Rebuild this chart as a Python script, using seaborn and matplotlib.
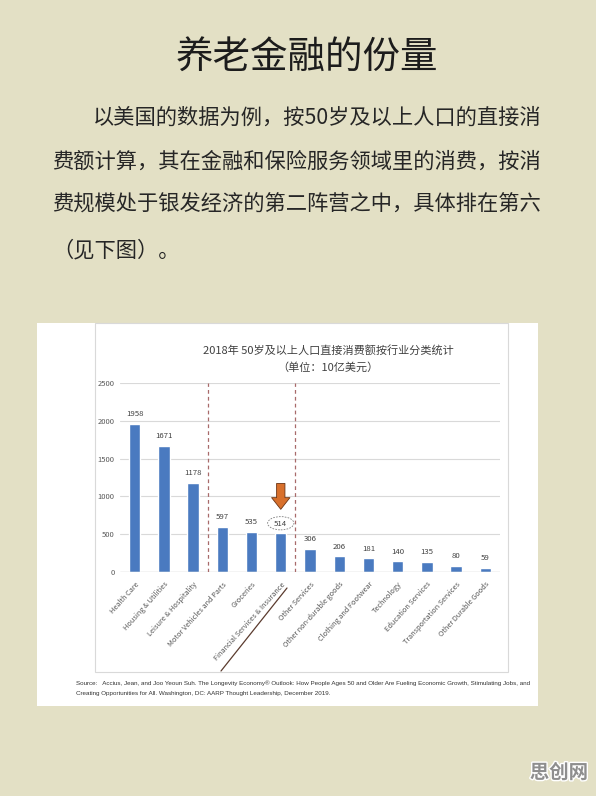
import matplotlib
matplotlib.use("Agg")
import matplotlib.pyplot as plt
import matplotlib.patches as mpatches
import matplotlib.patheffects as pe
from matplotlib.lines import Line2D
import seaborn as sns
import pandas as pd

# data (unit: 10亿美元)
categories = [
    "Health Care", "Housing & Utilities", "Leisure & Hospitality",
    "Motor Vehicles and Parts", "Groceries", "Financial Services & Insurance",
    "Other Services", "Other non-durable goods", "Clothing and Footwear",
    "Technology", "Education Services", "Transportation Services",
    "Other Durable Goods",
]
values = [1958, 1671, 1178, 597, 535, 514, 306, 206, 181, 140, 135, 80, 59]
y_ticks = [0, 500, 1000, 1500, 2000, 2500]
group_breaks = [2.5, 5.5]
highlight = "Financial Services & Insurance"

page_title = "养老金融的份量"
paragraph = [
    "以美国的数据为例，按50岁及以上人口的直接消",
    "费额计算，其在金融和保险服务领域里的消费，按消",
    "费规模处于银发经济的第二阵营之中，具体排在第六",
    "（见下图）。",
]
chart_title = "2018年 50岁及以上人口直接消费额按行业分类统计"
chart_subtitle = "（单位：10亿美元）"
source_lines = [
    "Source:   Accius, Jean, and Joo Yeoun Suh. The Longevity Economy® Outlook: How People Ages 50 and Older "
    "Are Fueling Economic Growth, Stimulating Jobs, and",
    "Creating Opportunities for All. Washington, DC: AARP Thought Leadership, December 2019.",
]
watermark = "思创网"

sns.set_style("white")
plt.rcParams["font.family"] = ["Noto Sans CJK SC", "DejaVu Sans"]

W, H = 596, 796
fig = plt.figure(figsize=(W / 100, H / 100), dpi=100)
fig.patch.set_facecolor("#e3e0c5")


# pixel -> figure fraction helpers (y measured from the top)
def fx(px):
    return px / W


def fy(py):
    return 1 - py / H


# page text
fig.text(fx(307), fy(58), page_title, ha="center", va="center", fontsize=27, color="#1c1c1c")
para_x = [93, 52, 52, 52]
para_y = [118, 162, 205, 250]
for line, x, y in zip(paragraph, para_x, para_y):
    fig.text(fx(x), fy(y), line, ha="left", va="center", fontsize=15.3, color="#262626")

# white panel holding the chart image
fig.add_artist(mpatches.Rectangle((fx(37), fy(706)), fx(538) - fx(37), fy(323) - fy(706),
                                  transform=fig.transFigure, fc="white", ec="none", zorder=0))
fig.add_artist(mpatches.Rectangle((fx(95), fy(672)), fx(508) - fx(95), fy(323) - fy(672),
                                  transform=fig.transFigure, fill=False, ec="#d9d9d9", lw=0.8, zorder=1))

fig.text(fx(328), fy(350), chart_title, ha="center", va="center", fontsize=8, color="#404040")
fig.text(fx(328), fy(367), chart_subtitle, ha="center", va="center", fontsize=8, color="#404040")

# the bar chart
ax = fig.add_axes([fx(120), fy(572), fx(500) - fx(120), fy(383) - fy(572)])
ax.set_facecolor("white")
df = pd.DataFrame({"category": categories, "value": values})
sns.barplot(data=df, x="category", y="value", color="#4a7ac0", saturation=1, width=0.39, ax=ax)

ax.set_xlim(-0.5, len(categories) - 0.5)
ax.set_ylim(0, 2500)
ax.set_yticks(y_ticks)
ax.grid(axis="y", color="#d9d9d9", lw=0.8)
ax.set_axisbelow(True)
sns.despine(ax=ax, left=True, bottom=True)
ax.axhline(0, color="#c4c4c4", lw=0.9, zorder=1)
ax.set_xlabel("")
ax.set_ylabel("")
ax.tick_params(axis="y", length=0, pad=4, labelsize=5.5, labelcolor="#595959")
ax.tick_params(axis="x", length=0, pad=6, labelsize=5.3, labelcolor="#595959")
plt.setp(ax.get_xticklabels(), rotation=48, ha="right", rotation_mode="anchor")

ax.bar_label(ax.containers[0], labels=[str(v) for v in values], padding=4,
             fontsize=5.6, color="#404040")

# dashed separators between the three groups
ax.vlines(group_breaks, 0, 2500, colors="#a86a6a", linestyles=(0, (3, 2.5)), lw=0.9)

# highlight financial services: arrow + dashed ellipse + underline
hi = categories.index(highlight)
ax.annotate("", xy=(hi, 829), xytext=(hi, 1171),
            arrowprops=dict(arrowstyle="simple,head_length=0.7,head_width=1.1,tail_width=0.5",
                            fc="#d8702c", ec="#6b3414", lw=0.6, shrinkA=0, shrinkB=0,
                            mutation_scale=12))
ax.add_patch(mpatches.Ellipse((hi, 645), 0.9, 175, fill=False, ls=(0, (2, 1.5)),
                              ec="#7f7f7f", lw=0.6))
fig.add_artist(Line2D([fx(221), fx(287)], [fy(671), fy(588)], transform=fig.transFigure,
                      color="#5b3b2e", lw=0.9))

# source note
for line, y in zip(source_lines, [683, 693]):
    fig.text(fx(76), fy(y), line, ha="left", va="center", fontsize=4.5,
             family=["Liberation Sans", "DejaVu Sans"], color="#333333")

# watermark
fig.text(fx(559), fy(773), watermark, ha="center", va="center", fontsize=14, weight="bold",
         color="#8e8e8e", path_effects=[pe.withStroke(linewidth=2, foreground="white")])

fig.savefig("out.png", dpi=100, facecolor=fig.get_facecolor())
